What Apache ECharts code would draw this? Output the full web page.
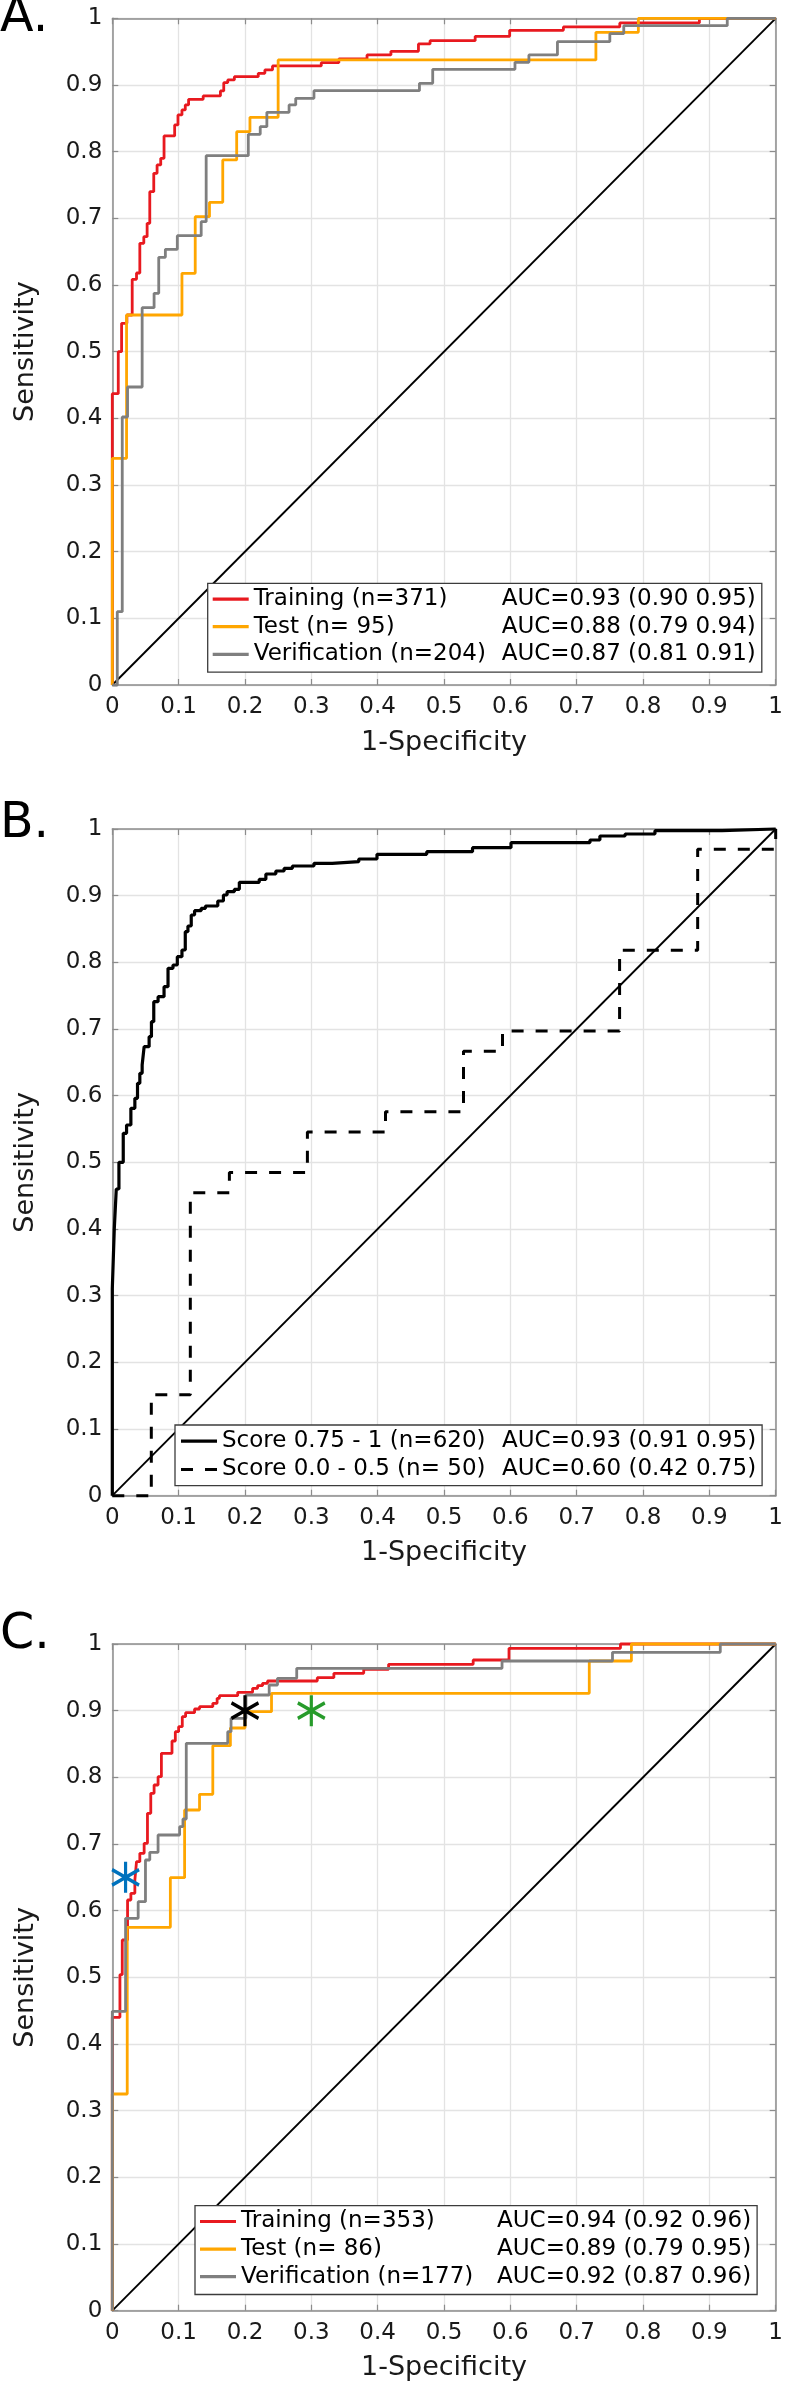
<!DOCTYPE html>
<html><head><meta charset="utf-8">
<script src="https://cdn.jsdelivr.net/npm/echarts@6/dist/echarts.min.js"></script>
<style>html,body{margin:0;padding:0;background:#fff}#c{width:786px;height:2388px}</style>
</head><body><div id="c"></div>
<script>
// ---------- tick labels ----------
const tickLabels = ['0','0.1','0.2','0.3','0.4','0.5','0.6','0.7','0.8','0.9','1'];
const panelLabels = ['A.', 'B.', 'C.'];
const xTitle = '1-Specificity';
const yTitle = 'Sensitivity';

// ---------- Panel A : [1-specificity, sensitivity] step vertices ----------
const trainingA = [[0,0],[0,0.437],[0.009,0.5],[0.014,0.5425],[0.022,0.555],[0.030,0.6085],[0.0365,0.618],[0.0415,0.6625],[0.0475,0.6725],[0.0525,0.6925],[0.0565,0.74],[0.0625,0.7675],[0.0675,0.78],[0.073,0.79],[0.078,0.8235],[0.094,0.84],[0.099,0.855],[0.105,0.8625],[0.11,0.87],[0.115,0.8785],[0.137,0.8835],[0.163,0.891],[0.168,0.9035],[0.174,0.9075],[0.184,0.9125],[0.22,0.9175],[0.23,0.9225],[0.2415,0.9285],[0.315,0.9335],[0.3415,0.939],[0.384,0.945],[0.42,0.9505],[0.4615,0.9615],[0.479,0.9665],[0.547,0.973],[0.599,0.982],[0.68,0.987],[0.765,0.993],[0.885,1],[1,1]];
const testA = [[0,0],[0,0.34],[0.0215,0.555],[0.105,0.6175],[0.125,0.7025],[0.1465,0.724],[0.1665,0.7875],[0.1875,0.83],[0.2075,0.8515],[0.25,0.9375],[0.729,0.979],[0.793,1],[1,1]];
const verificationA = [[0,0],[0.0075,0.11],[0.015,0.402],[0.023,0.447],[0.045,0.566],[0.063,0.5875],[0.07,0.6415],[0.08,0.6535],[0.098,0.674],[0.134,0.695],[0.1415,0.794],[0.205,0.826],[0.223,0.8375],[0.233,0.859],[0.2665,0.87],[0.2765,0.88],[0.304,0.8915],[0.463,0.9025],[0.483,0.9235],[0.607,0.934],[0.628,0.945],[0.671,0.965],[0.75,0.977],[0.771,0.989],[0.927,1],[1,1]];

// ---------- Panel B ----------
const scoreHighB = [[0,0],[0,0.31],[0.003,0.4],[0.006,0.46],[0.01,0.5],[0.0165,0.5435],[0.0215,0.556],[0.028,0.581],[0.034,0.596],[0.038,0.6185],[0.0415,0.6335],[0.045,0.646],[0.048,0.6735],[0.0555,0.6885],[0.059,0.711],[0.0625,0.741],[0.069,0.7485],[0.078,0.7635],[0.084,0.791],[0.0915,0.796],[0.098,0.8085],[0.105,0.8185],[0.11,0.846],[0.114,0.8545],[0.119,0.871],[0.124,0.8775],[0.134,0.881],[0.1405,0.8845],[0.159,0.892],[0.1675,0.901],[0.173,0.906],[0.184,0.9095],[0.1915,0.92],[0.2215,0.9245],[0.2315,0.9325],[0.2465,0.937],[0.259,0.941],[0.2715,0.9445],[0.304,0.9485],[0.3315,0.951],[0.3715,0.955],[0.399,0.962],[0.474,0.966],[0.543,0.972],[0.601,0.9795],[0.72,0.9835],[0.735,0.9895],[0.773,0.9925],[0.818,0.9975],[0.919,1],[1,1]];
const scoreLowB = [[0,0],[0.0588,0.1515],[0.1176,0.4545],[0.1765,0.4848],[0.2941,0.5455],[0.4118,0.5758],[0.5294,0.6667],[0.5882,0.697],[0.7647,0.8182],[0.8824,0.9697],[1,1]];

// ---------- Panel C ----------
const trainingC = [[0,0],[0,0.44],[0.0115,0.504],[0.015,0.556],[0.023,0.616],[0.028,0.626],[0.034,0.646],[0.0365,0.6735],[0.0415,0.686],[0.048,0.701],[0.053,0.746],[0.058,0.776],[0.063,0.7885],[0.069,0.801],[0.074,0.836],[0.09,0.8545],[0.095,0.8685],[0.1,0.876],[0.1055,0.891],[0.1105,0.897],[0.124,0.9025],[0.1315,0.906],[0.1515,0.911],[0.158,0.9185],[0.1615,0.9225],[0.189,0.9275],[0.2115,0.9335],[0.219,0.9375],[0.2265,0.941],[0.234,0.9445],[0.309,0.9495],[0.334,0.956],[0.379,0.962],[0.4165,0.9695],[0.544,0.976],[0.598,0.9935],[0.766,1],[1,1]];
const testC = [[0,0],[0,0.325],[0.0225,0.575],[0.0875,0.6495],[0.109,0.751],[0.1315,0.7745],[0.1515,0.8475],[0.178,0.874],[0.2,0.8985],[0.24,0.926],[0.719,0.9745],[0.7825,1],[1,1]];
const verificationC = [[0,0],[0,0.449],[0.02,0.5885],[0.039,0.6135],[0.05,0.676],[0.0565,0.6875],[0.069,0.7135],[0.1015,0.726],[0.1065,0.7375],[0.1115,0.851],[0.174,0.8685],[0.179,0.8885],[0.2015,0.9235],[0.2365,0.9385],[0.249,0.9485],[0.278,0.9635],[0.5875,0.9745],[0.754,0.9875],[0.9165,1],[1,1]];
const pointBlue = [[0.02,0.65]];
const pointBlack = [[0.2,0.9]];
const pointGreen = [[0.3,0.9]];

const chanceLine = [[0,0],[1,1]];

// ---------- legend texts ----------
const legendA = ['Training (n=371)','Test (n= 95)','Verification (n=204)'];
const aucA = ['AUC=0.93 (0.90 0.95)','AUC=0.88 (0.79 0.94)','AUC=0.87 (0.81 0.91)'];
const legendB = ['Score 0.75 - 1 (n=620)','Score 0.0 - 0.5 (n= 50)'];
const aucB = ['AUC=0.93 (0.91 0.95)','AUC=0.60 (0.42 0.75)'];
const legendC = ['Training (n=353)','Test (n= 86)','Verification (n=177)'];
const aucC = ['AUC=0.94 (0.92 0.96)','AUC=0.89 (0.79 0.95)','AUC=0.92 (0.87 0.96)'];

// ---------- styling ----------
const FONT = 'DejaVu Sans';
const RED = '#e8191f', ORANGE = '#ffa600', GRAY = '#7f7f7f', BLACK = '#000000';
const BLUE = '#0072bd', GREEN = '#279b2b';
const AXIS = '#8c8c8c', GRID = '#e3e3e3', TXT = '#1a1a1a';
const gridTops = [18.3, 829, 1644];
const GL = 112.3, GW = 666.7, GH = 666.7;
const SOLID_ICON = 'rect';
const DASH_ICON = 'path://M0,0H12V3H0Z M24,0H36V3H24Z';

const aucMap = {};
legendA.forEach((n,i)=>aucMap[n]=aucA[i]);
legendB.forEach((n,i)=>aucMap[n]=aucB[i]);
legendC.forEach((n,i)=>aucMap[n]=aucC[i]);

const fmt = v => tickLabels[Math.round(v*10)];

const grids = gridTops.map(t => ({left: GL, top: t, width: GW, height: GH}));
const xAxes = [], yAxes = [];
gridTops.forEach((t, gi) => {
  const common = {type:'value', gridIndex: gi, min:0, max:1, interval:0.1,
    axisLine:{show:true, onZero:false, lineStyle:{color:AXIS, width:1.5}},
    axisTick:{show:true, inside:true, length:6, lineStyle:{color:AXIS, width:1.2}}};
  xAxes.push(Object.assign({}, common, {position:'bottom',
    axisLabel:{show:true, formatter: fmt, fontFamily:FONT, fontSize:23, color:TXT, margin:11},
    splitLine:{show:true, lineStyle:{color:GRID, width:1.3}},
    name: xTitle, nameLocation:'middle', nameGap:44,
    nameTextStyle:{fontFamily:FONT, fontSize:27, color:TXT}}));
  xAxes.push(Object.assign({}, common, {position:'top', axisLabel:{show:false}, splitLine:{show:false}}));
  yAxes.push(Object.assign({}, common, {position:'left',
    axisLabel:{show:true, formatter: fmt, fontFamily:FONT, fontSize:23, color:TXT, margin:10},
    splitLine:{show:true, lineStyle:{color:GRID, width:1.3}},
    name: yTitle, nameLocation:'middle', nameGap:73,
    nameTextStyle:{fontFamily:FONT, fontSize:27, color:TXT}}));
  yAxes.push(Object.assign({}, common, {position:'right', axisLabel:{show:false}, splitLine:{show:false}}));
});

function rocSeries(name, data, color, gi, width, dashed) {
  return {type:'line', name, data, xAxisIndex: gi*2, yAxisIndex: gi*2, step:'end',
    symbol:'none', clip:false, silent:true,
    lineStyle:{color, width: width || 2.8, type: dashed ? [12,12] : 'solid'},
    itemStyle:{color}};
}
function diagSeries(gi) {
  return {type:'line', data: chanceLine, xAxisIndex: gi*2, yAxisIndex: gi*2,
    symbol:'none', clip:false, silent:true, lineStyle:{color:BLACK, width:1.9}, z:1};
}
const ASTER = 'path://M0,-1L0,1M-0.866,-0.5L0.866,0.5M-0.866,0.5L0.866,-0.5';
function starSeries(data, color, gi) {
  return {type:'scatter', data, xAxisIndex: gi*2, yAxisIndex: gi*2, symbol: ASTER,
    symbolSize:[27,31], clip:false, silent:true, z:5,
    itemStyle:{color:'rgba(0,0,0,0)', borderColor:color, borderWidth:3.4, opacity:1}};
}

const series = [
  diagSeries(0),
  rocSeries(legendA[0], trainingA, RED, 0),
  rocSeries(legendA[1], testA, ORANGE, 0),
  rocSeries(legendA[2], verificationA, GRAY, 0),
  diagSeries(1),
  rocSeries(legendB[0], scoreHighB, BLACK, 1, 3.2),
  rocSeries(legendB[1], scoreLowB, BLACK, 1, 3.0, true),
  diagSeries(2),
  rocSeries(legendC[0], trainingC, RED, 2),
  rocSeries(legendC[1], testC, ORANGE, 2),
  rocSeries(legendC[2], verificationC, GRAY, 2),
  starSeries(pointBlue, BLUE, 2),
  starSeries(pointBlack, BLACK, 2),
  starSeries(pointGreen, GREEN, 2)
];

function legendCfg(names, icons, left, top, nameWidth, rowH, padding) {
  return {data: names.map((n,i)=>({name:n, icon: icons[i]})), left, top, orient:'vertical', selectedMode:false,
    backgroundColor:'#ffffff', borderColor:'#3c3c3c', borderWidth:1.3, borderRadius:0,
    padding, itemGap:0, itemWidth:36, itemHeight:3.2, itemTextGap:4,
    textStyle:{fontFamily:FONT, fontSize:23, color:'#000', lineHeight:rowH,
      rich:{n:{width:nameWidth, fontFamily:FONT, fontSize:23, color:'#000', lineHeight:rowH},
            a:{fontFamily:FONT, fontSize:23, color:'#000', lineHeight:rowH}}},
    formatter: name => '{n|' + name + '}{a|' + aucMap[name] + '}'};
}

const option = {
  animation:false,
  backgroundColor:'#ffffff',
  grid: grids,
  xAxis: xAxes,
  yAxis: yAxes,
  legend: [
    legendCfg(legendA, [SOLID_ICON,SOLID_ICON,SOLID_ICON], 207.7, 583.3, 248, 27.6, [2,6,4,5]),
    legendCfg(legendB, [SOLID_ICON,DASH_ICON], 175, 1425, 280, 28.3, [2,6,2,6]),
    legendCfg(legendC, [SOLID_ICON,SOLID_ICON,SOLID_ICON], 195, 2205.7, 256, 27.6, [2,6,4,5])
  ],
  graphic: panelLabels.map((t, i) => ({type:'text', left: 0, top: [-6, 800, 1611][i], z:10,
    style:{text:t, fontFamily:FONT, fontSize:49, fill:'#000'}})),
  series
};
const chart = echarts.init(document.getElementById('c'), null, {renderer:'canvas'});
chart.setOption(option);
</script>
</body></html>
